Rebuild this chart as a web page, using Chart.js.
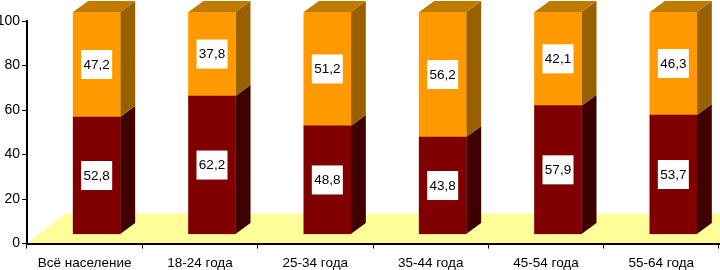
<!DOCTYPE html>
<html>
<head>
<meta charset="utf-8">
<style>
  html, body { margin: 0; padding: 0; background: #fff; }
  #wrap { position: relative; width: 720px; height: 270px; }
</style>
<script src="https://cdn.jsdelivr.net/npm/chart.js@4"></script>
</head>
<body>
<div id="wrap"><canvas id="chart"></canvas></div>
<script>
const categories = ['Всё население', '18-24 года', '25-34 года', '35-44 года', '45-54 года', '55-64 года'];
const lowerValues = [52.8, 62.2, 48.8, 43.8, 57.9, 53.7];
const upperValues = [47.2, 37.8, 51.2, 56.2, 42.1, 46.3];
const labelsLower = ['52,8', '62,2', '48,8', '43,8', '57,9', '53,7'];
const labelsUpper = ['47,2', '37,8', '51,2', '56,2', '42,1', '46,3'];

// Pseudo-3D offsets, px
const shiftX = 12, shiftY = -9;
const depthX = 15, depthY = 11;

const font = 'Liberation Sans, Arial, sans-serif';

function poly(ctx, pts, color) {
  ctx.fillStyle = color;
  ctx.beginPath();
  pts.forEach(([x, y], i) => (i ? ctx.lineTo(x, y) : ctx.moveTo(x, y)));
  ctx.closePath();
  ctx.fill();
}

const floor3d = {
  id: 'floor3d',
  beforeDraw(chart) {
    const { ctx, chartArea: a } = chart;
    poly(ctx, [[a.left, a.bottom], [a.left + 39, a.bottom - 30], [720, a.bottom - 30], [720, a.bottom]], '#ffff99');
  },
};

const bars3d = {
  id: 'bars3d',
  beforeDatasetsDraw(chart) {
    const { ctx } = chart;
    ctx.save();
    ctx.translate(shiftX, shiftY);
    const shades = [
      { side: '#400000', top: '#600000' },
      { side: '#996000', top: '#bf7a00' },
    ];
    chart.data.datasets.forEach((ds, i) => {
      chart.getDatasetMeta(i).data.forEach((bar) => {
        const r = bar.x + bar.width / 2;
        const l = bar.x - bar.width / 2;
        poly(ctx, [[r, bar.y], [r + depthX, bar.y - depthY], [r + depthX, bar.base - depthY], [r, bar.base]], shades[i].side);
        if (i === chart.data.datasets.length - 1) {
          poly(ctx, [[l, bar.y], [l + depthX, bar.y - depthY], [r + depthX, bar.y - depthY], [r, bar.y]], shades[i].top);
        }
      });
    });
  },
  afterDatasetsDraw(chart) {
    const { ctx } = chart;
    ctx.font = '13.5px ' + font;
    ctx.textAlign = 'center';
    ctx.textBaseline = 'middle';
    [labelsLower, labelsUpper].forEach((labels, i) => {
      chart.getDatasetMeta(i).data.forEach((bar, j) => {
        const cy = (bar.y + bar.base) / 2;
        ctx.fillStyle = '#fff';
        ctx.fillRect(bar.x - 15.5, cy - 14.5, 31, 29);
        ctx.fillStyle = '#000';
        ctx.fillText(labels[j], bar.x, cy + 0.5);
      });
    });
    ctx.restore();
  },
};

new Chart(document.getElementById('chart'), {
  type: 'bar',
  data: {
    labels: categories,
    datasets: [
      { data: lowerValues, backgroundColor: '#800000', barThickness: 47, borderWidth: 0 },
      { data: upperValues, backgroundColor: '#ff9900', barThickness: 47, borderWidth: 0 },
    ],
  },
  options: {
    responsive: true,
    maintainAspectRatio: false,
    animation: false,
    events: [],
    layout: { padding: { top: 21, right: 1, left: 0, bottom: 0 } },
    plugins: { legend: { display: false }, tooltip: { enabled: false } },
    scales: {
      x: {
        stacked: true,
        afterFit: (s) => { s.height = 26.5; },
        border: { color: '#000', width: 2 },
        grid: { drawOnChartArea: false, drawTicks: true, tickLength: 5, tickColor: '#000', tickWidth: 1 },
        ticks: { color: '#000', maxRotation: 0, padding: 7, font: { family: font, size: 13.5 } },
      },
      y: {
        stacked: true,
        min: 0,
        max: 100,
        afterFit: (s) => { s.width = 27; },
        border: { color: '#000', width: 2 },
        grid: { drawOnChartArea: false, drawTicks: true, tickLength: 5, tickColor: '#000', tickWidth: 1 },
        ticks: { color: '#000', stepSize: 20, padding: 2, font: { family: font, size: 14 } },
      },
    },
  },
  plugins: [floor3d, bars3d],
});
</script>
</body>
</html>
